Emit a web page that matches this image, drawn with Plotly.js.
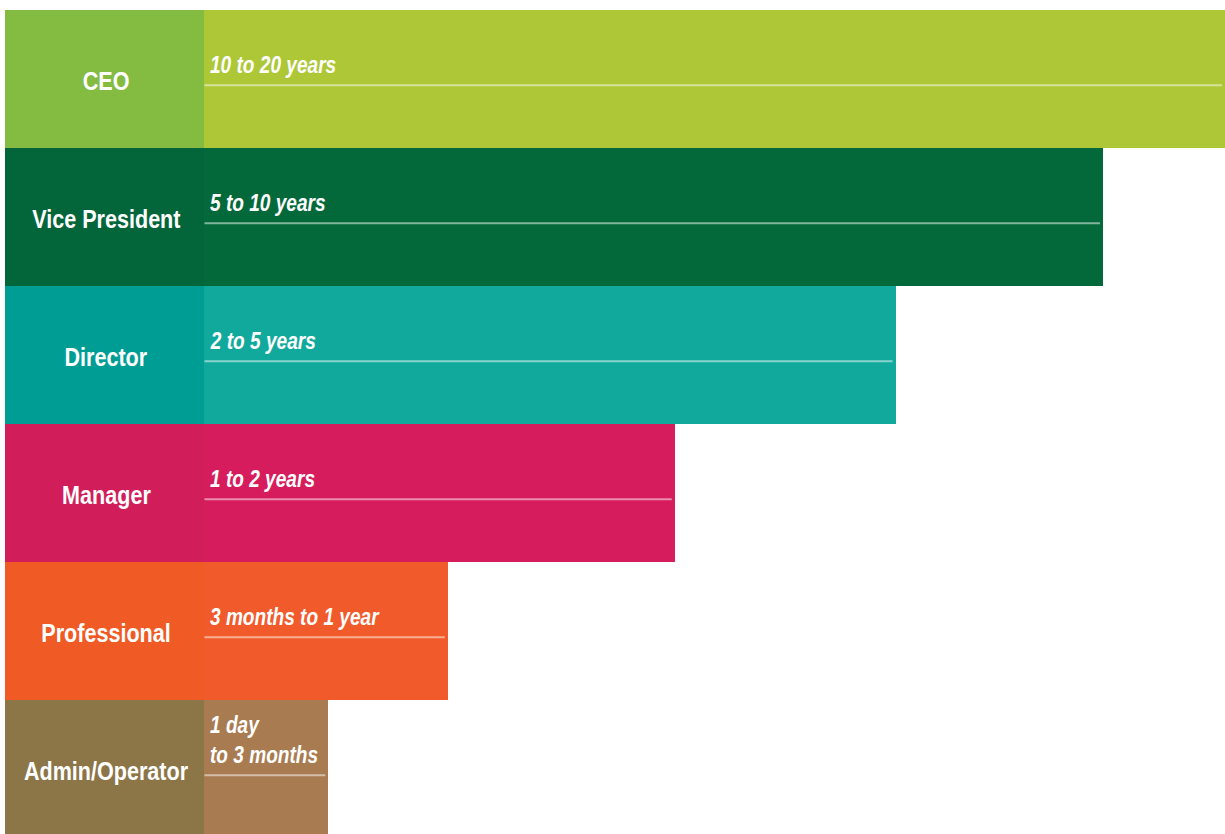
<!DOCTYPE html>
<html>
<head>
<meta charset="utf-8">
<script src="https://cdn.plot.ly/plotly-3.0.1.min.js"></script>
<style>
html,body{margin:0;padding:0;background:#fff;overflow:hidden;}
#chart{width:1225px;height:834px;}
</style>
</head>
<body>
<div id="chart"></div>
<script>
// ---- data ----
const roles = ["CEO", "Vice President", "Director", "Manager", "Professional", "Admin/Operator"];
const timeToFill = ["10 to 20 years", "5 to 10 years", "2 to 5 years", "1 to 2 years", "3 months to 1 year", "1 day<br>to 3 months"];
const totalLength = [100, 90, 73, 54.9, 36.3, 26.5];   // relative bar length (label block included)
const labelColors = ["#84bb41", "#02663a", "#009d95", "#d11d5a", "#f05a24", "#8c7547"];
const barColors   = ["#adc737", "#03693b", "#12a99d", "#d61c5c", "#f15a2b", "#a87b51"];

// ---- layout helpers ----
const LABEL_W = 16.3;                 // width of the label block in axis units
const idx = roles.map((_, i) => i);
const barPart = totalLength.map(v => v - LABEL_W);

const traces = [
  {
    type: "bar", orientation: "h",
    y: idx, x: roles.map(() => LABEL_W), base: 0,
    marker: {color: labelColors, line: {width: 0}},
    hoverinfo: "skip", showlegend: false
  },
  {
    type: "bar", orientation: "h",
    y: idx, x: barPart, base: LABEL_W,
    marker: {color: barColors, line: {width: 0}},
    hoverinfo: "skip", showlegend: false
  }
];

const fontFam = "Liberation Sans, Arial, sans-serif";

const annotations = [];
roles.forEach((r, i) => {
  annotations.push({
    x: LABEL_W / 2, y: i, xref: "x", yref: "y",
    text: "<b>" + r + "</b>", showarrow: false,
    xanchor: "center", yanchor: "middle", xshift: 2, yshift: -2,
    font: {family: fontFam, size: 26, color: "#ffffff"},
    name: "role"
  });
  annotations.push({
    x: LABEL_W, y: i, xref: "x", yref: "y",
    text: timeToFill[i].split("<br>").map(s => "<b><i>" + s + "</i></b>").join("<br>"),
    showarrow: false,
    xanchor: "left", yanchor: "bottom", align: "left",
    xshift: 5, yshift: 0, borderpad: 0,
    font: {family: fontFam, size: 23, color: "#ffffff"},
    name: "dur"
  });
});

const shapes = roles.map((r, i) => ({
  type: "line", xref: "x", yref: "y",
  x0: LABEL_W + 0.05, x1: totalLength[i] - 0.25,
  y0: i + 0.045, y1: i + 0.045,
  line: {color: "rgba(255,255,255,0.5)", width: 2}
}));

const layout = {
  width: 1225, height: 834,
  margin: {l: 5, r: 0, t: 10, b: 0, pad: 0},
  paper_bgcolor: "#ffffff", plot_bgcolor: "#ffffff",
  barmode: "overlay", bargap: 0,
  xaxis: {range: [0, 100], visible: false, fixedrange: true},
  yaxis: {range: [-0.5 + 824 / 138, -0.5], visible: false, fixedrange: true},
  annotations: annotations,
  shapes: shapes,
  showlegend: false
};

Plotly.newPlot("chart", traces, layout, {displayModeBar: false, staticPlot: true}).then(() => {
  // condensed look (the original uses a condensed typeface)
  document.querySelectorAll("g.annotation").forEach(g => {
    const i = +g.getAttribute("data-index");
    const t = g.querySelector("text");
    if (!t) return;
    const isRole = annotations[i] && annotations[i].name === "role";
    t.style.transformBox = "fill-box";
    t.style.transformOrigin = isRole ? "center" : "left center";
    t.style.transform = "scaleX(0.83)";
  });
});
</script>
</body>
</html>
